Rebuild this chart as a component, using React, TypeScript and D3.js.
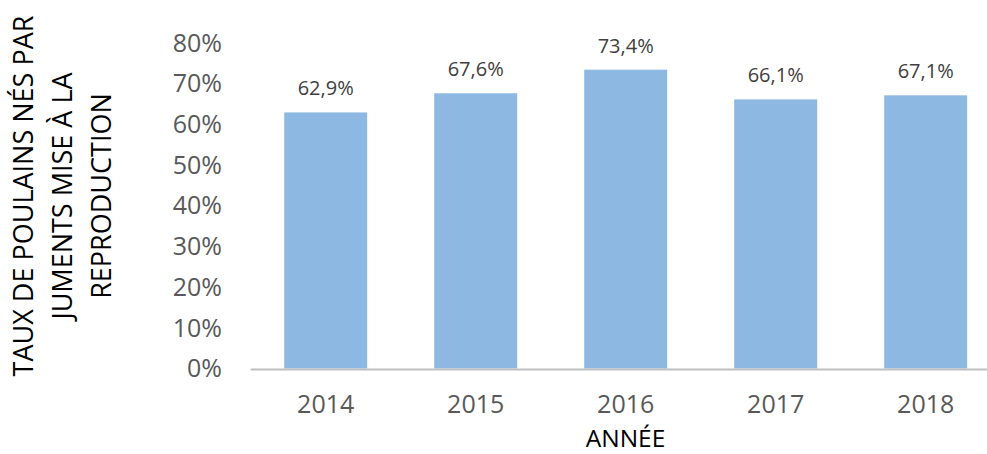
import React from "react";
import * as d3 from "d3";

const years = ["2014", "2015", "2016", "2017", "2018"];
const values = [0.629, 0.676, 0.734, 0.661, 0.671];
const valueLabels = ["62,9%", "67,6%", "73,4%", "66,1%", "67,1%"];
const yTicks = [0, 0.1, 0.2, 0.3, 0.4, 0.5, 0.6, 0.7, 0.8];
const yTitleLines = ["TAUX DE POULAINS NÉS PAR", "JUMENTS MISE À LA", "REPRODUCTION"];
const xTitle = "ANNÉE";

const W = 987;
const H = 454;
const FONT = "'Open Sans', 'Noto Sans', sans-serif";

export default function App() {
  const x = d3.scaleBand<string>().domain(years).range([250.7, 1000.7]).paddingInner(0.447).paddingOuter(0.2235);
  const y = d3.scaleLinear().domain([0, 0.8]).range([368.5, 42.8]);
  const fmt = (v: number) => `${Math.round(v * 100)}%`;

  return (
    <svg width={W} height={H} style={{ position: "absolute", left: 0, top: 0, background: "#fff" }} fontFamily={FONT}>
      <rect x={0} y={0} width={W} height={H} fill="#fff" />
      {yTicks.map((t) => (
        <text key={t} x={222} y={y(t)} dy="0.35em" textAnchor="end" fontSize={25} fill="#595959">
          {fmt(t)}
        </text>
      ))}
      {years.map((yr, i) => (
        <rect key={yr} x={x(yr)} y={y(values[i])} width={x.bandwidth()} height={y(0) - y(values[i])} fill="#8DB8E2" />
      ))}
      <line x1={250.7} x2={W} y1={y(0) + 1} y2={y(0) + 1} stroke="#BFBFBF" strokeWidth={2} />
      {years.map((yr, i) => (
        <text key={"l" + yr} x={(x(yr) as number) + x.bandwidth() / 2} y={y(values[i]) - 17} textAnchor="middle" fontSize={20} fill="#404040">
          {valueLabels[i]}
        </text>
      ))}
      {years.map((yr) => (
        <text key={"t" + yr} x={(x(yr) as number) + x.bandwidth() / 2} y={404} dy="0.35em" textAnchor="middle" fontSize={25} fill="#595959">
          {yr}
        </text>
      ))}
      <text x={625.5} y={446.5} textAnchor="middle" fontSize={24.5} fill="#000">
        {xTitle}
      </text>
      {yTitleLines.map((line, i) => (
        <text
          key={line}
          transform={`translate(${24 + i * 39},${196}) rotate(-90)`}
          dy="0.35em"
          textAnchor="middle"
          fontSize={27}
          fill="#000"
        >
          {line}
        </text>
      ))}
    </svg>
  );
}
